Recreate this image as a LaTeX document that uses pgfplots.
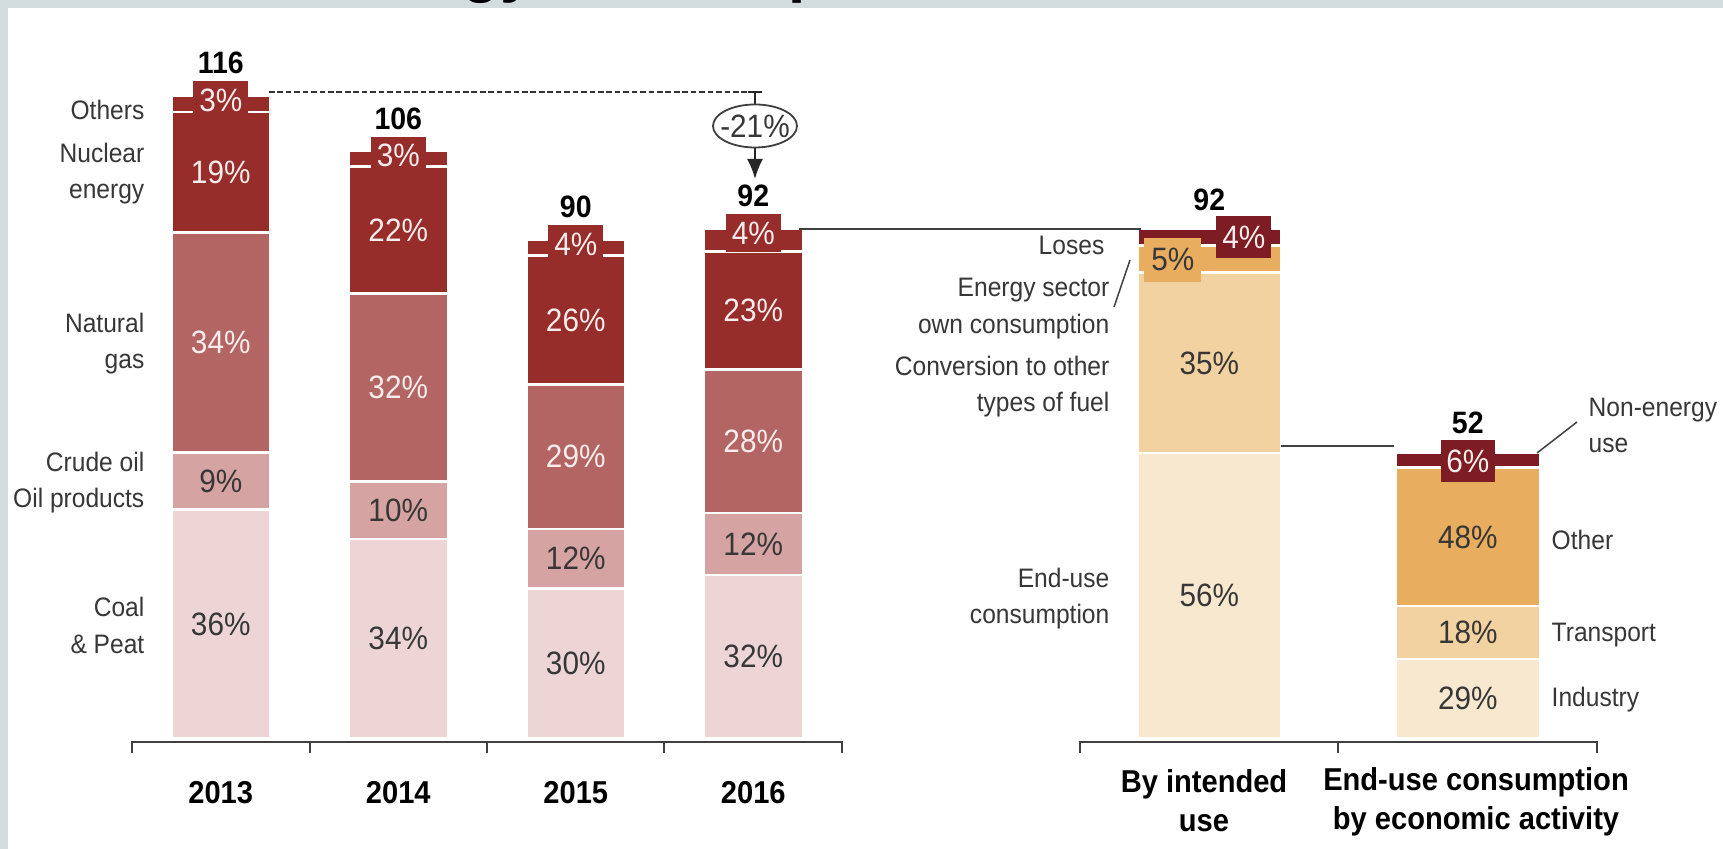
\documentclass[border=0pt]{standalone}
\usepackage{fontspec}
\setmainfont{Liberation Sans}[FakeStretch=0.92]
\newfontfamily\titlefont{Liberation Sans}
\usepackage{pgfplots}
\pgfplotsset{compat=1.18}
\usetikzlibrary{arrows.meta}

\definecolor{bggray}{RGB}{212,221,222}
\definecolor{nuc}{RGB}{150,45,43}
\definecolor{gas}{RGB}{179,101,99}
\definecolor{oil}{RGB}{212,163,162}
\definecolor{coal}{RGB}{237,213,213}
\definecolor{maroon}{RGB}{125,28,35}
\definecolor{orng}{RGB}{232,173,94}
\definecolor{tan}{RGB}{242,210,160}
\definecolor{cream}{RGB}{249,232,208}
\definecolor{txt}{RGB}{55,55,55}
\definecolor{wtxt}{RGB}{248,236,236}
\definecolor{ax}{RGB}{64,64,64}

\newcommand\lab{\fontsize{7.6}{10.4}\selectfont}
\newcommand\pct{\fontsize{9.2}{10}\selectfont}
\newcommand\blab{\bfseries\fontsize{9}{11.2}\selectfont}
\newcommand\tot{\bfseries\fontsize{8.8}{10}\selectfont}

\tikzset{
  pct/.style={font=\pct, inner sep=0},
  dk/.style={pct, text=txt},
  wt/.style={pct, text=wtxt},
  tab/.style={font=\pct, inner sep=0, fill=nuc, text=wtxt, minimum width=5.5mm, minimum height=3.8mm},
  tot/.style={font=\tot, inner sep=0},
}

\begin{document}
\begin{tikzpicture}
% ---------- background ----------
\begin{scope}[x=0.1mm,y=-0.1mm,yshift=84.9mm]
  \fill[bggray] (0,0) rectangle (1723,849);
  \fill[white] (8,8) rectangle (1723,849);
  \node[anchor=base west, inner sep=0, font=\titlefont\bfseries\fontsize{17.6}{20}\selectfont] at (324,-9) {Energy consumption};
\end{scope}

% ---------- left axis: supply by source ----------
\begin{axis}[
  at={(13.2mm,10.7mm)}, anchor=south west,
  scale only axis, width=71mm, height=69.65mm,
  xmin=-0.5, xmax=3.5, ymin=-0.722, ymax=125,
  axis lines=none, xtick=\empty, ytick=\empty, clip=false,
  ybar stacked, bar width=9.9mm,
  every axis plot/.append style={draw=white, line width=0.25mm},
]
\addplot[fill=coal] coordinates {(0,41.2) (1,35.9) (2,27.0) (3,29.4)};
\addplot[fill=oil]  coordinates {(0,10.3) (1,10.4) (2,10.7) (3,11.2)};
\addplot[fill=gas]  coordinates {(0,39.7) (1,33.9) (2,26.1) (3,25.9)};
\addplot[fill=nuc]  coordinates {(0,21.8) (1,23.0) (2,23.3) (3,21.3)};
\addplot[fill=nuc]  coordinates {(0,3.0)  (1,2.8)  (2,2.9)  (3,4.2)};
\end{axis}

% ---------- right axis: use ----------
\begin{axis}[
  at={(108mm,10.7mm)}, anchor=south west,
  scale only axis, width=51.7mm, height=69.65mm,
  xmin=-0.5, xmax=1.5, ymin=-0.722, ymax=125,
  axis lines=none, xtick=\empty, ytick=\empty, clip=false,
  ybar stacked, bar width=14.4mm,
  every axis plot/.append style={draw=white, line width=0.25mm},
]
\addplot[fill=cream]  coordinates {(0,51.4) (1,14.3)};
\addplot[fill=tan]    coordinates {(0,32.6) (1,9.5)};
\addplot[fill=orng]   coordinates {(0,4.9)  (1,25.0)};
\addplot[fill=maroon] coordinates {(0,3.1)  (1,2.6)};
\end{axis}

% ---------- annotations (pixel grid: 1 unit = 1 px of the reference) ----------
\begin{scope}[x=0.1mm,y=-0.1mm,yshift=84.9mm]
  % value labels, left group
  \node[dk] at (220.75,623.9) {36\%};
  \node[dk] at (220.75,481.2) {9\%};
  \node[wt] at (220.75,342.7) {34\%};
  \node[wt] at (220.75,172.4) {19\%};
  \node[tab] at (220.75,100.3) {3\%};
  \node[tot] at (220.75,63.2) {116};
  \node[dk] at (398.25,638.6) {34\%};
  \node[dk] at (398.25,510.3) {10\%};
  \node[wt] at (398.25,387.6) {32\%};
  \node[wt] at (398.25,230.0) {22\%};
  \node[tab] at (398.25,155.7) {3\%};
  \node[tot] at (398.25,118.6) {106};
  \node[dk] at (575.75,663.2) {30\%};
  \node[dk] at (575.75,558.8) {12\%};
  \node[wt] at (575.75,456.8) {29\%};
  \node[wt] at (575.75,320.0) {26\%};
  \node[tab] at (575.75,244.4) {4\%};
  \node[tot] at (575.75,207.3) {90};
  \node[dk] at (753.25,656.6) {32\%};
  \node[dk] at (753.25,544.1) {12\%};
  \node[wt] at (753.25,441.3) {28\%};
  \node[wt] at (753.25,310.6) {23\%};
  \node[tab] at (753.25,233.3) {4\%};
  \node[tot] at (753.25,196.2) {92};
  % value labels, right group
  \node[dk] at (1209.25,595.6) {56\%};
  \node[dk] at (1209.25,362.9) {35\%};
  \node[dk, fill=orng, minimum width=5.7mm, minimum height=4.4mm] at (1172.8,259.9) {5\%};
  \node[wt, fill=maroon, minimum width=5.5mm, minimum height=4.2mm] at (1243.8,237.2) {4\%};
  \node[tot] at (1209.25,200.1) {92};
  \node[dk] at (1467.75,698.4) {29\%};
  \node[dk] at (1467.75,632.5) {18\%};
  \node[dk] at (1467.75,536.9) {48\%};
  \node[wt, fill=maroon, minimum width=5.4mm, minimum height=4.2mm] at (1467.75,461) {6\%};
  \node[tot] at (1467.75,422.8) {52};
  % brackets
  \draw[ax, line width=0.2mm] (132,753)--(132,742)--(842,742)--(842,753);
  \foreach \t in {310,487,664} \draw[ax, line width=0.2mm] (\t,742)--(\t,753);
  \draw[ax, line width=0.2mm] (1080,753)--(1080,742)--(1597,742)--(1597,753);
  \draw[ax, line width=0.2mm] (1338,742)--(1338,753);
  % category labels
  \foreach \x/\y in {220.75/2013,398.25/2014,575.75/2015,753.25/2016}
    \node[font=\blab, inner sep=0] at (\x,793) {\y};
  \node[font=\blab, inner sep=0, align=center] at (1204,801) {By intended\\use};
  \node[font=\blab, inner sep=0, align=center] at (1476,802) {End-use consumption\\by economic activity};
  % left labels
  \begin{scope}[every node/.style={font=\lab, text=txt, inner sep=0, align=right, anchor=east}]
    \node at (145,110) {Others};
    \node at (145,173.5) {Nuclear\\energy};
    \node at (145,343.5) {Natural\\gas};
    \node at (145,482.5) {Crude oil\\Oil products};
    \node at (145,625.5) {Coal\\\& Peat};
    \node at (1105,245) {Loses};
    \node at (1110,308.5) {Energy sector\\own consumption};
    \node at (1110,386.5) {Conversion to other\\types of fuel};
    \node at (1110,598.5) {End-use\\consumption};
  \end{scope}
  \begin{scope}[every node/.style={font=\lab, text=txt, inner sep=0, align=left, anchor=west}]
    \node at (1588,425.5) {Non-energy\\use};
    \node at (1551,540) {Other};
    \node at (1551,635) {Transport};
    \node at (1551,700) {Industry};
  \end{scope}
  % leader lines
  \draw[ax, line width=0.15mm] (1130,260)--(1114,307);
  \draw[ax, line width=0.15mm] (1537,453)--(1577,422);
  % connectors
  \draw[black!80, line width=0.15mm, dash pattern=on 1.6pt off 0.8pt] (269,92)--(755,92);
  \draw[black!85, line width=0.2mm] (748,92)--(762,92) (755,92)--(755,105);
  \draw[ax, line width=0.18mm] (755,126) ellipse [x radius=4.2mm, y radius=2.15mm];
  \node[font=\pct, text=txt, inner sep=0] at (755,126) {-21\%};
  \draw[black!85, line width=0.2mm, -{Latex[length=2mm,width=1.6mm]}] (755,148)--(755,179);
  \draw[ax, line width=0.2mm] (799,229)--(1141,229);
  \draw[ax, line width=0.2mm] (1281,446)--(1394,446);
\end{scope}
\pgfresetboundingbox
\path (0,0) rectangle (172.3mm,84.9mm);
\end{tikzpicture}
\end{document}
